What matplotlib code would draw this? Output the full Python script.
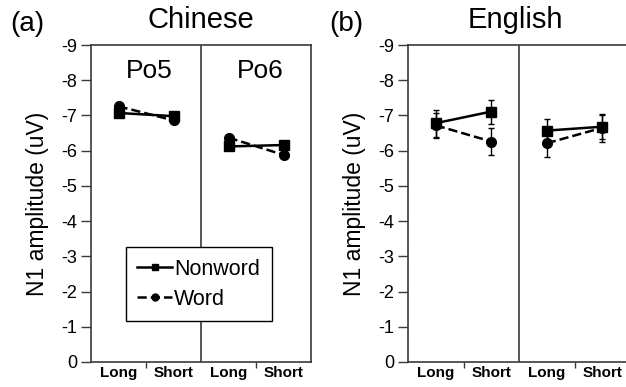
import matplotlib
matplotlib.use("Agg")
import matplotlib.pyplot as plt
from matplotlib.ticker import FixedLocator

plt.rcParams['font.family'] = ['Liberation Sans', 'DejaVu Sans']

# data (N1 amplitude, uV)
conditions = ["Long", "Short"]
cn_po5_nonword = [-7.07, -6.98]
cn_po5_word = [-7.26, -6.86]
cn_po6_nonword = [-6.12, -6.16]
cn_po6_word = [-6.37, -5.88]

en_left_nonword = [-6.78, -7.11]
en_left_nonword_err = [0.38, 0.34]
en_left_word = [-6.72, -6.26]
en_left_word_err = [0.36, 0.37]
en_right_nonword = [-6.57, -6.68]
en_right_nonword_err = [0.33, 0.34]
en_right_word = [-6.21, -6.65]
en_right_word_err = [0.38, 0.39]

yticks = list(range(0, -10, -1))
spine_col = "#3a3a3a"

fig = plt.figure(figsize=(6.26, 3.87), dpi=100)
ax_a = fig.add_axes([91 / 626, 25 / 387, 220 / 626, 317 / 387])
ax_b = fig.add_axes([408 / 626, 25 / 387, 222 / 626, 317 / 387])


def style_axes(ax):
    ax.set_xlim(0, 4)
    ax.set_ylim(0, -9)
    ax.set_yticks(yticks)
    ax.set_yticklabels([str(t) for t in yticks], fontsize=13)
    ax.set_xticks([0.5, 1.5, 2.5, 3.5])
    ax.set_xticklabels(conditions * 2, fontsize=11, fontweight="semibold")
    ax.tick_params(axis="x", length=0, pad=3)
    ax.xaxis.set_minor_locator(FixedLocator([1, 3]))
    ax.tick_params(axis="x", which="minor", length=4, width=1, color=spine_col)
    ax.tick_params(axis="y", length=7, width=1, color=spine_col, pad=3)
    for s in ax.spines.values():
        s.set_color(spine_col)
        s.set_linewidth(1.2)
    ax.axvline(2, color=spine_col, lw=1.2, zorder=1)
    ax.set_ylabel("N1 amplitude (uV)", fontsize=16.5, labelpad=9)


style_axes(ax_a)
style_axes(ax_b)

# panel (a): Chinese
for xs, nw, wd in [([0.5, 1.5], cn_po5_nonword, cn_po5_word),
                   ([2.5, 3.5], cn_po6_nonword, cn_po6_word)]:
    ax_a.plot(xs, nw, "-s", color="black", lw=1.8, ms=7, zorder=3)
    ax_a.plot(xs, wd, "--o", color="black", lw=1.8, ms=7, zorder=3)

ax_a.text(1.05, -8.27, "Po5", fontsize=19, ha="center", va="center")
ax_a.text(3.08, -8.27, "Po6", fontsize=19, ha="center", va="center")

h_nw, = ax_a.plot([], [], "-s", color="black", lw=1.8, ms=5)
h_wd, = ax_a.plot([], [], "--o", color="black", lw=1.8, ms=5)
leg = ax_a.legend([h_nw, h_wd], ["Nonword", "Word"], loc="center",
                  bbox_to_anchor=(0.489, 0.245), fontsize=15.5, fancybox=False,
                  framealpha=1, edgecolor="black", handlelength=1.6,
                  handletextpad=0.1, borderpad=0.55, labelspacing=0.4)
leg.get_frame().set_linewidth(1.0)

# panel (b): English
for xs, nw, nwe, wd, wde in [([0.5, 1.5], en_left_nonword, en_left_nonword_err,
                              en_left_word, en_left_word_err),
                             ([2.5, 3.5], en_right_nonword, en_right_nonword_err,
                              en_right_word, en_right_word_err)]:
    ax_b.errorbar(xs, nw, yerr=nwe, fmt="-s", color="black", lw=1.8, ms=7,
                  elinewidth=1, capsize=2.5, capthick=1, zorder=3)
    ax_b.errorbar(xs, wd, yerr=wde, fmt="--o", color="black", lw=1.8, ms=7,
                  elinewidth=1, capsize=2.5, capthick=1, zorder=3)

# titles and panel labels
fig.text(201 / 626, 1 - 20 / 387, "Chinese", fontsize=21, ha="center", va="center")
fig.text(515 / 626, 1 - 20 / 387, "English", fontsize=21, ha="center", va="center")
fig.text(27 / 626, 1 - 24 / 387, "(a)", fontsize=20, ha="center", va="center")
fig.text(346 / 626, 1 - 24 / 387, "(b)", fontsize=20, ha="center", va="center")

fig.savefig("out.png", dpi=100)
